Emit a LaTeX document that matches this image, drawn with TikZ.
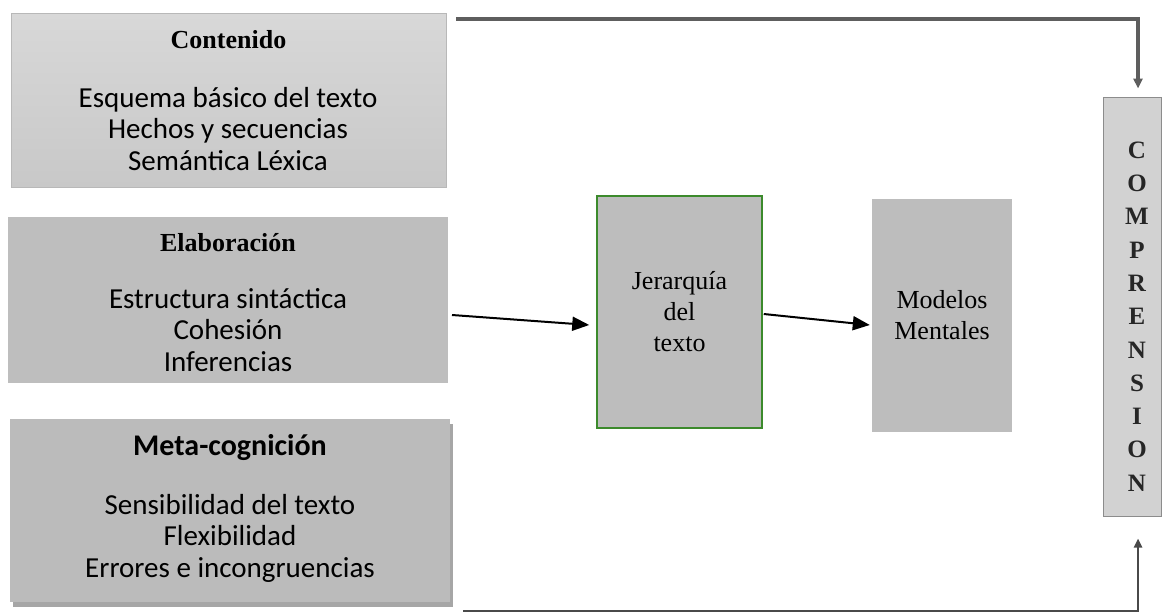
\documentclass[tikz,border=0pt]{standalone}
\usepackage{fontspec}
\setmainfont{Liberation Serif}
\newfontfamily\calibfont{Carlito}
\usetikzlibrary{arrows.meta,shadows}
\definecolor{contfillA}{HTML}{D8D8D8}
\definecolor{contfillB}{HTML}{C8C8C8}
\definecolor{contedge}{HTML}{B8B8B8}
\definecolor{elabfill}{HTML}{BEBEBE}
\definecolor{metafill}{HTML}{BBBBBB}
\definecolor{midfill}{HTML}{BDBDBD}
\definecolor{greenedge}{HTML}{3C8A2C}
\definecolor{compfill}{HTML}{D2D2D2}
\definecolor{compedge}{HTML}{8C8C8C}
\definecolor{toplinec}{HTML}{5E5E5E}
\definecolor{botlinec}{HTML}{4A4A4A}
\begin{document}
\begin{tikzpicture}[x=1pt,y=-1pt,
  panel/.style={rectangle, inner sep=0pt},
  headserif/.style={inner sep=0pt, font=\fontsize{26}{30}\selectfont\bfseries},
  headsans/.style={inner sep=0pt, font=\calibfont\fontsize{30}{34}\selectfont\bfseries},
  bodytext/.style={inner sep=0pt, align=center, font=\calibfont\fontsize{29}{31.5}\selectfont},
  midtext/.style={align=center, font=\fontsize{26}{31}\selectfont},
  mainarrow/.style={line width=2pt, black, -{Triangle[length=17pt,width=14pt]}},
  feedline/.style={line width=3.5pt, toplinec, -{Triangle[length=10pt,width=9pt]}},
  backline/.style={line width=2.5pt, botlinec, -{Triangle[length=9pt,width=8pt]}}
]
\useasboundingbox (0,0) rectangle (1162,613);

% left panels
\node[panel, minimum width=435pt, minimum height=174pt, draw=contedge, line width=0.8pt,
      top color=contfillA, bottom color=contfillB] (cont) at (228.5,100) {};
\node[headserif] (conth) at (228.5,40) {Contenido};
\node[bodytext] (contb) at (228,129) {Esquema básico del texto\\Hechos y secuencias\\Semántica Léxica};

\node[panel, minimum width=440pt, minimum height=166pt, fill=elabfill] (elab) at (228,300) {};
\node[headserif] (elabh) at (228,243) {Elaboración};
\node[bodytext] (elabb) at (228,330) {Estructura sintáctica\\Cohesión\\Inferencias};

\node[panel, minimum width=440pt, minimum height=183pt, fill=metafill,
      drop shadow={shadow xshift=3pt, shadow yshift=-5pt, fill=black, opacity=0.35}] (meta) at (230,510.5) {};
\node[headsans] (metah) at (230,448) {Meta-cognición};
\node[bodytext] (metab) at (230,538) {Sensibilidad del texto\\Flexibilidad\\Errores e incongruencias};

% middle
\node[panel, minimum width=165pt, minimum height=232pt, fill=midfill, draw=greenedge, line width=1.5pt,
      midtext] (jer) at (679.5,312) {Jerarquía\\del\\texto};
\node[panel, minimum width=140pt, minimum height=233pt, fill=midfill, midtext] (mod) at (942,315.5) {Modelos\\Mentales};

% comprension
\node[panel, minimum width=58pt, minimum height=419pt, fill=compfill, draw=compedge, line width=1pt] (comp) at (1132,306.5) {};
\node[align=center, inner sep=0pt, font=\fontsize{25}{33.3}\selectfont\bfseries, text=black!85] (compt) at (1137,316.5)
  {C\\O\\M\\P\\R\\E\\N\\S\\I\\O\\N};

% connectors
\coordinate (a1s) at (452,315);
\draw[mainarrow] (a1s) -- ([xshift=-7pt,yshift=-13pt]jer.west);
\draw[mainarrow] ([xshift=1pt,yshift=-2pt]jer.east) -- ([xshift=-2pt,yshift=-9.5pt]mod.west);

\coordinate (tops) at (456,19);
\draw[feedline] (tops) -| ([xshift=6pt,yshift=8pt]comp.north);
\coordinate (bots) at (463,611);
\draw[backline] (bots) -| ([xshift=6pt,yshift=-22pt]comp.south);
\end{tikzpicture}
\end{document}
